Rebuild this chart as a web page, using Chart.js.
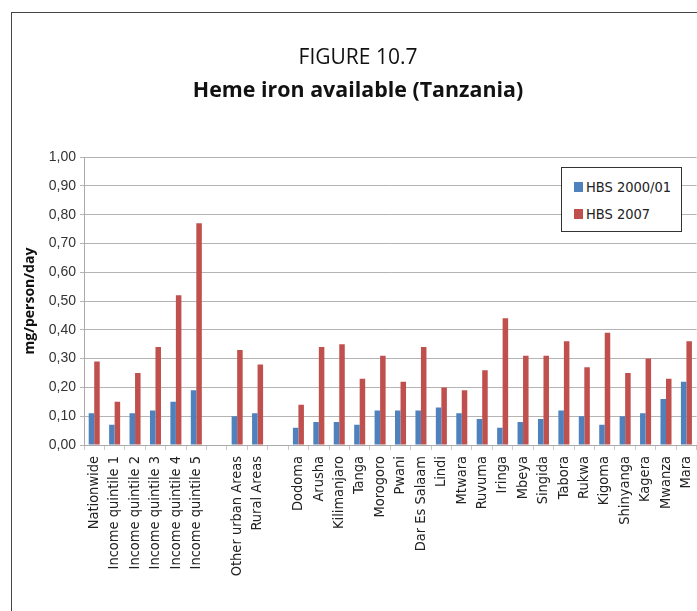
<!DOCTYPE html>
<html>
<head>
<meta charset="utf-8">
<script src="https://cdn.jsdelivr.net/npm/chart.js@4"></script>
<style>
  html, body { margin: 0; padding: 0; background: #fff; overflow: hidden; }
  #wrap { position: relative; width: 697px; height: 611px; overflow: hidden; }
  #frame { position: absolute; left: 11px; top: 12px; width: 800px; height: 700px; border: 1px solid #444; }
  #heme-chart { position: absolute; left: 0; top: 0; }
  #legend {
    position: absolute; left: 561px; top: 167px; width: 119px; height: 63px;
    border: 1px solid #333; background: #fff;
    font-family: "DejaVu Sans Condensed", "Liberation Sans", sans-serif;
    font-size: 14.5px; color: #222; line-height: 16px;
  }
  .leg-item { position: absolute; left: 12px; display: flex; align-items: center; white-space: nowrap; }
  .leg-box { width: 9px; height: 10px; margin-right: 3px; }
</style>
</head>
<body>
<div id="wrap">
  <div id="frame"></div>
  <canvas id="heme-chart" width="710" height="611"></canvas>
  <div id="legend">
    <div class="leg-item" style="top: 11px;"><span class="leg-box" style="background:#4F81BD"></span>HBS 2000/01</div>
    <div class="leg-item" style="top: 38px;"><span class="leg-box" style="background:#C0504D"></span>HBS 2007</div>
  </div>
</div>
<script>
// categories (blank entries are the gaps between groups)
const categories = [
  "Nationwide", "Income quintile 1", "Income quintile 2", "Income quintile 3",
  "Income quintile 4", "Income quintile 5", "",
  "Other urban Areas", "Rural Areas", "",
  "Dodoma", "Arusha", "Kilimanjaro", "Tanga", "Morogoro", "Pwani",
  "Dar Es Salaam", "Lindi", "Mtwara", "Ruvuma", "Iringa", "Mbeya",
  "Singida", "Tabora", "Rukwa", "Kigoma", "Shinyanga", "Kagera",
  "Mwanza", "Mara"
];

const hbs2000 = [
  0.11, 0.07, 0.11, 0.12, 0.15, 0.19, null,
  0.10, 0.11, null,
  0.06, 0.08, 0.08, 0.07, 0.12, 0.12,
  0.12, 0.13, 0.11, 0.09, 0.06, 0.08,
  0.09, 0.12, 0.10, 0.07, 0.10, 0.11,
  0.16, 0.22
];

const hbs2007 = [
  0.29, 0.15, 0.25, 0.34, 0.52, 0.77, null,
  0.33, 0.28, null,
  0.14, 0.34, 0.35, 0.23, 0.31, 0.22,
  0.34, 0.20, 0.19, 0.26, 0.44, 0.31,
  0.31, 0.36, 0.27, 0.39, 0.25, 0.30,
  0.23, 0.36
];

const yMin = 0;
const yMax = 1;
const yStep = 0.1;

const labelFont = "'DejaVu Sans Condensed', 'Liberation Sans', sans-serif";

const ctx = document.getElementById("heme-chart").getContext("2d");

new Chart(ctx, {
  type: "bar",
  data: {
    labels: categories,
    datasets: [
      {
        label: "HBS 2000/01",
        data: hbs2000,
        backgroundColor: "#4F81BD",
        borderWidth: 0,
      },
      {
        label: "HBS 2007",
        data: hbs2007,
        backgroundColor: "#C0504D",
        borderWidth: 0,
      },
    ],
  },
  options: {
    responsive: false,
    animation: false,
    // left padding also nudges the centred titles to the right
    layout: { padding: { left: 17, right: 11, top: 12, bottom: 0 } },
    datasets: {
      bar: { categoryPercentage: 0.54, barPercentage: 1.0 },
    },
    plugins: {
      legend: { display: false },
      tooltip: { enabled: false },
      title: {
        display: true,
        text: "FIGURE 10.7",
        color: "#111",
        font: { family: "Open Sans", size: 21, weight: "normal" },
        padding: { top: 33.4, bottom: 0 },
      },
      subtitle: {
        display: true,
        text: "Heme iron available (Tanzania)",
        color: "#111",
        font: { family: "Open Sans", size: 21.4, weight: "bold" },
        padding: { top: 7.6, bottom: 53.2 },
      },
    },
    scales: {
      x: {
        grid: {
          offset: true,
          drawOnChartArea: false,
          drawTicks: true,
          tickLength: 5,
          color: "#c8c8c8",
        },
        border: { color: "#aaaaaa" },
        ticks: {
          autoSkip: false,
          maxRotation: 90,
          minRotation: 90,
          padding: 6,
          color: "#222",
          font: { family: labelFont, size: 14.5 },
        },
        afterFit: (scale) => {
          scale.height = 166;
        },
      },
      y: {
        min: yMin,
        max: yMax,
        ticks: {
          stepSize: yStep,
          padding: 4,
          color: "#333",
          font: { family: "Liberation Sans", size: 14 },
          callback: (value) => value.toFixed(2).replace(".", ","),
        },
        grid: {
          color: "#b4b4b4",
          tickLength: 4,
        },
        border: { color: "#aaaaaa" },
        title: {
          display: true,
          text: "mg/person/day",
          color: "#111",
          font: { family: "Open Sans", size: 14, weight: "bold" },
          padding: { top: 5, bottom: 0 },
        },
        afterFit: (scale) => {
          scale.width = 67;
        },
      },
    },
  },
});
</script>
</body>
</html>
